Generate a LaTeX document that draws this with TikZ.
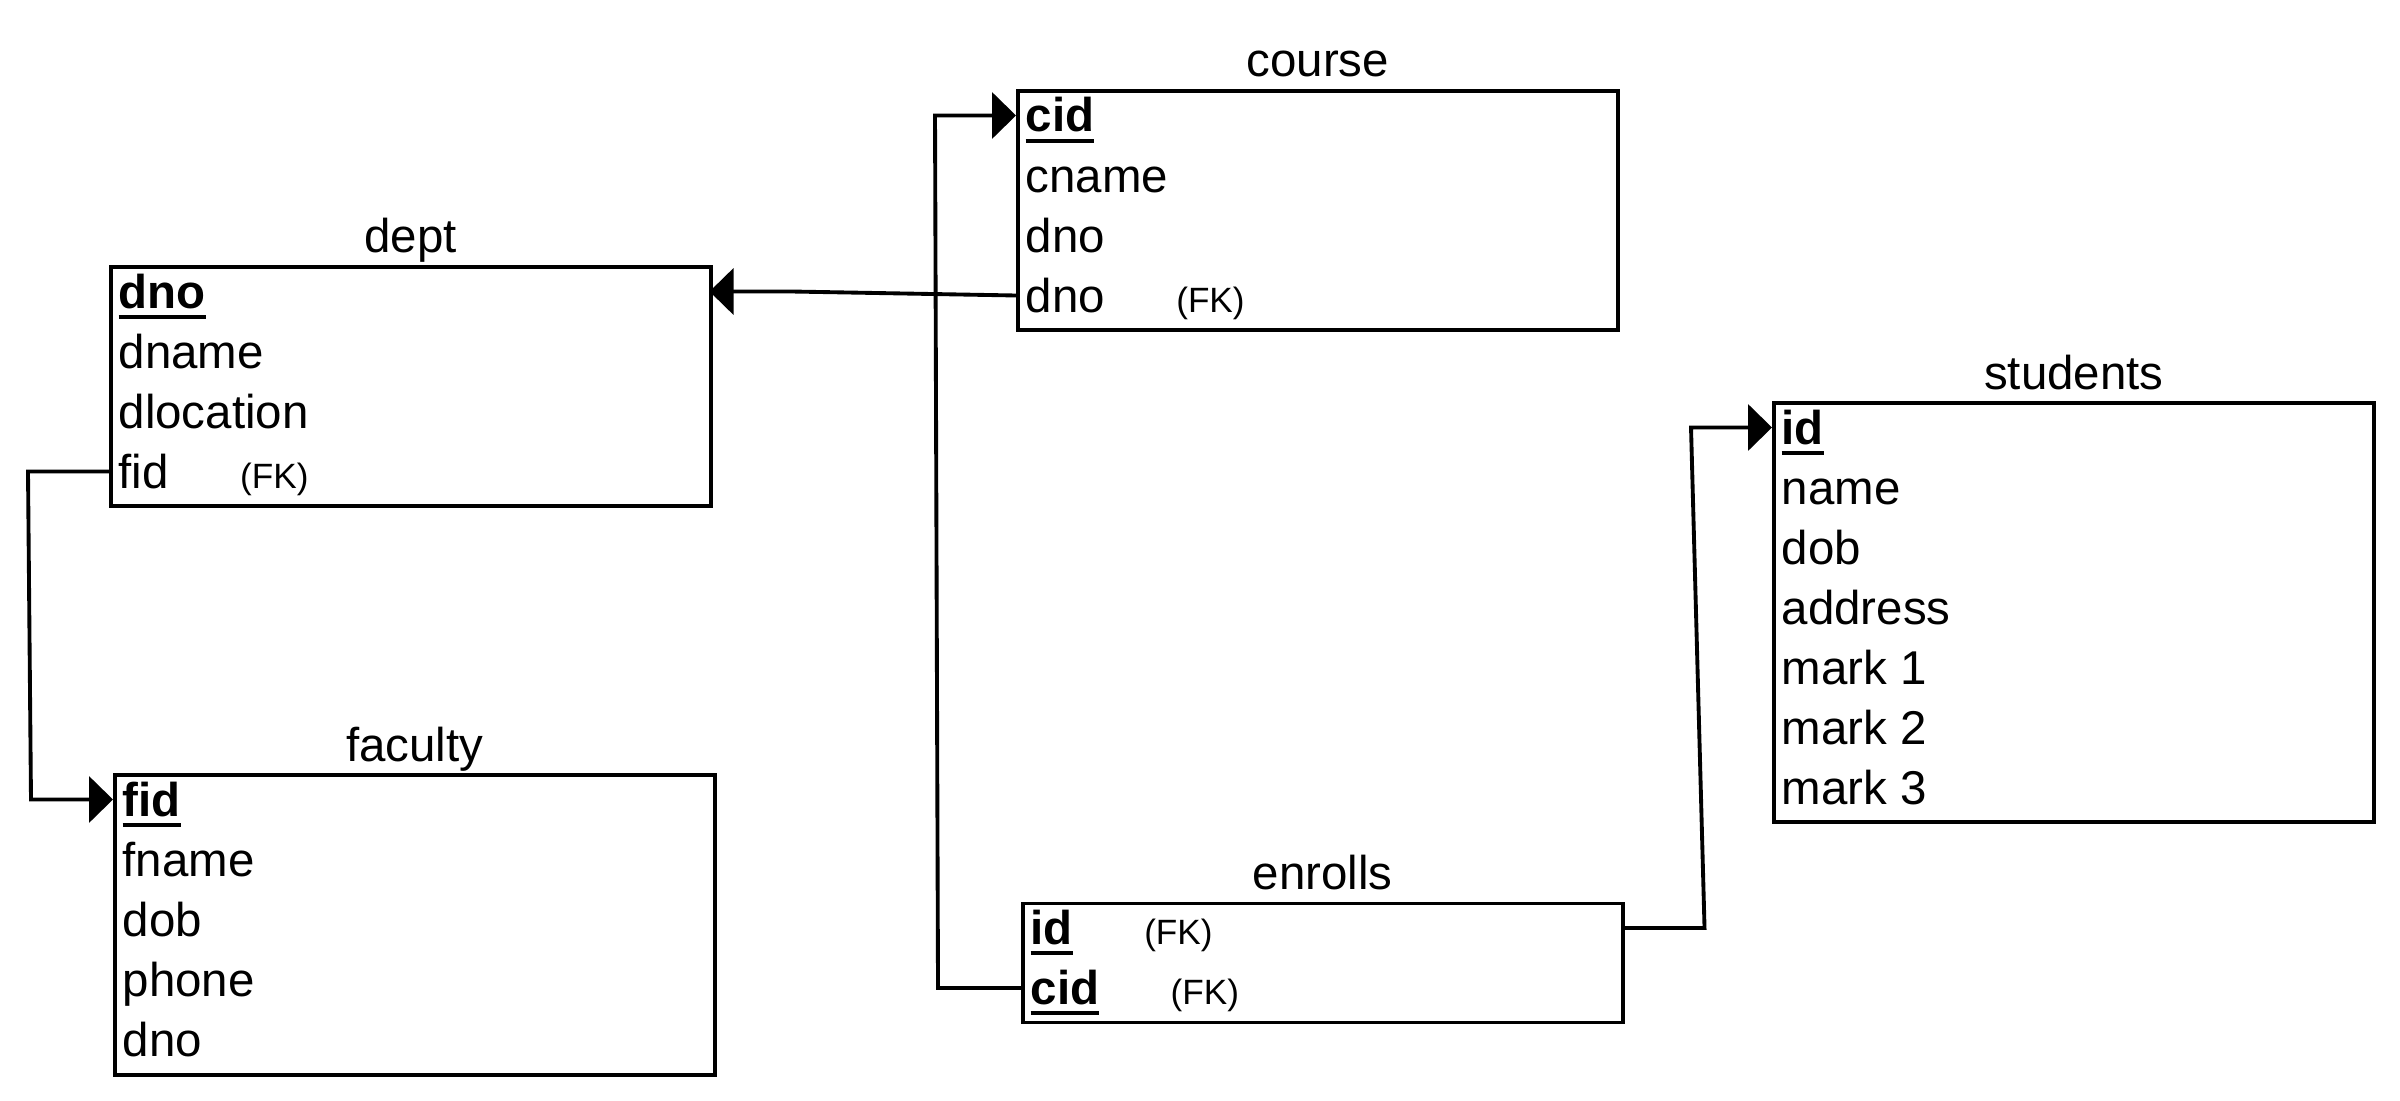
\documentclass[tikz,border=0pt]{standalone}
\usepackage{fontspec}
\setmainfont{Liberation Sans}
\usetikzlibrary{positioning, calc, arrows.meta}
\newsavebox\pkbox
\newcommand{\pk}[1]{\sbox\pkbox{\bfseries #1}\usebox\pkbox\llap{\rule[-3pt]{\wd\pkbox}{1.1pt}}}
\tikzset{
    tablebox/.style = {draw, line width=1pt, inner sep=0pt, minimum width=6cm, anchor=north west},
    tabletitle/.style = {anchor=base, inner sep=0pt, font=\fontsize{13.5}{16}\selectfont},
    attr/.style = {anchor=base west, inner sep=0pt, text height=0.40cm, text depth=0.07cm, font=\fontsize{13.5}{16}\selectfont},
    fk/.style = {inner sep=0pt, font=\fontsize{10}{12}\selectfont},
    fklink/.style = {line width=1.1pt, -{Triangle[length=0.24cm, width=0.46cm]}},
}
\begin{document}
\begin{tikzpicture}
\useasboundingbox (0,0) rectangle (24,-11);

\node[tablebox, minimum height=2.39cm] (course) at (10.16,-0.89) {};
\node[tabletitle] (course-title) at ($(course.north)+(0,0.12)$) {course};
\node[attr] (course-cid) at ($(course.north west)+(0.09,-0.43)$) {\pk{cid}};
\node[attr] (course-cname) at ($(course.north west)+(0.09,-1.03)$) {cname};
\node[attr] (course-dno) at ($(course.north west)+(0.09,-1.63)$) {dno};
\node[attr] (course-dnofk) at ($(course.north west)+(0.09,-2.23)$) {dno};
\node[fk, base right=0.70cm of course-dnofk] {(FK)};

\node[tablebox, minimum height=2.39cm] (dept) at (1.09,-2.65) {};
\node[tabletitle] (dept-title) at ($(dept.north)+(0,0.12)$) {dept};
\node[attr] (dept-dno) at ($(dept.north west)+(0.09,-0.43)$) {\pk{dno}};
\node[attr] (dept-dname) at ($(dept.north west)+(0.09,-1.03)$) {dname};
\node[attr] (dept-dlocation) at ($(dept.north west)+(0.09,-1.63)$) {dlocation};
\node[attr] (dept-fid) at ($(dept.north west)+(0.09,-2.23)$) {fid};
\node[fk, base right=0.70cm of dept-fid] {(FK)};

\node[tablebox, minimum height=3cm] (faculty) at (1.13,-7.73) {};
\node[tabletitle] (faculty-title) at ($(faculty.north)+(0,0.12)$) {faculty};
\node[attr] (faculty-fid) at ($(faculty.north west)+(0.09,-0.43)$) {\pk{fid}};
\node[attr] (faculty-fname) at ($(faculty.north west)+(0.09,-1.03)$) {fname};
\node[attr] (faculty-dob) at ($(faculty.north west)+(0.09,-1.63)$) {dob};
\node[attr] (faculty-phone) at ($(faculty.north west)+(0.09,-2.23)$) {phone};
\node[attr] (faculty-dno) at ($(faculty.north west)+(0.09,-2.83)$) {dno};

\node[tablebox, minimum height=1.19cm] (enrolls) at (10.21,-9.015) {};
\node[tabletitle] (enrolls-title) at ($(enrolls.north)+(0,0.12)$) {enrolls};
\node[attr] (enrolls-id) at ($(enrolls.north west)+(0.09,-0.43)$) {\pk{id}};
\node[fk, base right=0.70cm of enrolls-id] {(FK)};
\node[attr] (enrolls-cid) at ($(enrolls.north west)+(0.09,-1.03)$) {\pk{cid}};
\node[fk, base right=0.70cm of enrolls-cid] {(FK)};

\node[tablebox, minimum height=4.19cm] (students) at (17.72,-4.01) {};
\node[tabletitle] (students-title) at ($(students.north)+(0,0.12)$) {students};
\node[attr] (students-id) at ($(students.north west)+(0.09,-0.43)$) {\pk{id}};
\node[attr] (students-name) at ($(students.north west)+(0.09,-1.03)$) {name};
\node[attr] (students-dob) at ($(students.north west)+(0.09,-1.63)$) {dob};
\node[attr] (students-address) at ($(students.north west)+(0.09,-2.23)$) {address};
\node[attr] (students-mark1) at ($(students.north west)+(0.09,-2.83)$) {mark 1};
\node[attr] (students-mark2) at ($(students.north west)+(0.09,-3.43)$) {mark 2};
\node[attr] (students-mark3) at ($(students.north west)+(0.09,-4.03)$) {mark 3};

\draw[fklink] (dept-fid -| dept.west) -- ++(-0.81,0) -- ($(faculty-fid -| faculty.west)+(-0.82,0)$) -- (faculty-fid -| faculty.west);
\draw[fklink] (course-dnofk -| course.west) -- ($(dept-dno -| dept.east)+(0.79,0)$) -- ($(dept-dno -| dept.east)+(-0.03,0)$);
\draw[fklink] (enrolls-cid -| enrolls.west) -- ++(-0.83,0) -- ($(course-cid -| course.west)+(-0.81,0)$) -- (course-cid -| course.west);
\draw[fklink] (enrolls-id -| enrolls.east) -- ++(0.80,0) -- ($(students-id -| students.west)+(-0.81,0)$) -- (students-id -| students.west);
\end{tikzpicture}
\end{document}
